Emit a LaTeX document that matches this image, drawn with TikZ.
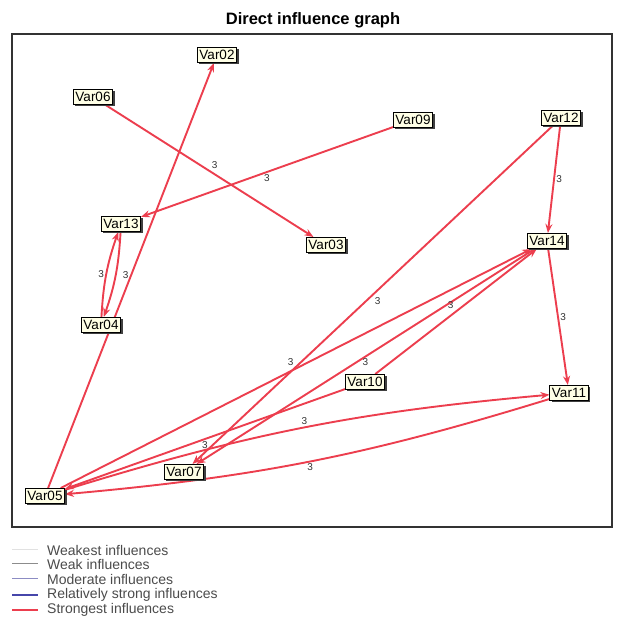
\documentclass[tikz,border=0pt]{standalone}
\usepackage{fontspec}
\setmainfont{Liberation Sans}
\usetikzlibrary{arrows.meta, shadows, backgrounds}
\definecolor{inflred}{RGB}{236,62,78}
\definecolor{boxcream}{RGB}{255,255,230}
\definecolor{legendgray}{RGB}{75,75,75}
\definecolor{weakestgray}{RGB}{225,225,225}
\definecolor{weakgray}{RGB}{140,140,140}
\definecolor{moderateblue}{RGB}{140,140,195}
\definecolor{strongblue}{RGB}{70,70,170}

\tikzset{
  var/.style={draw=black, line width=1pt, fill=boxcream,
    font=\fontsize{13.5}{13.5}\selectfont, inner xsep=2pt, inner ysep=1.5pt,
    minimum height=15pt,
    drop shadow={shadow xshift=2pt, shadow yshift=-2pt, fill=black!75, opacity=1}},
  infl/.style={-{Stealth[length=9pt,width=7pt]}, line width=1.9pt, inflred},
  wt/.style={font=\fontsize{10}{10}\selectfont, text=black!80, inner sep=1.5pt},
  legendtext/.style={anchor=west, font=\fontsize{14}{14}\selectfont, text=legendgray, inner sep=0pt},
}

\begin{document}
\begin{tikzpicture}[x=1pt, y=-1pt]
  \useasboundingbox (0,0) rectangle (622,620);

  % title and frame
  \node[font=\bfseries\fontsize{16.5}{16.5}\selectfont] (title) at (313,20) {Direct influence graph};
  \draw[line width=1.2pt, black!80] (12,34) rectangle (612,527);

  % variables
  \node[var] (v02) at (217,55) {Var02};
  \node[var] (v06) at (93,97) {Var06};
  \node[var] (v09) at (413,120) {Var09};
  \node[var] (v12) at (561,118) {Var12};
  \node[var] (v13) at (121,224) {Var13};
  \node[var] (v03) at (326,245) {Var03};
  \node[var] (v14) at (547,241) {Var14};
  \node[var] (v04) at (101,325) {Var04};
  \node[var] (v10) at (365,382) {Var10};
  \node[var] (v11) at (569,393) {Var11};
  \node[var] (v07) at (184,472) {Var07};
  \node[var] (v05) at (45,496) {Var05};

  % influences
  \begin{pgfonlayer}{background}
    \draw[infl] (v06) -- node[wt, above right] (w1) {3} (v03);
    \draw[infl] (v09) -- node[wt, below] (w2) {3} (v13);
    \draw[infl] (v05) -- node[wt, left] (w3) {3} (v02);
    \draw[infl] (v04) to[bend left=8] node[wt, left] (w4) {3} (v13);
    \draw[infl] (v13) to[bend left=8] (v04);
    \draw[infl] (v12) -- node[wt, right] (w5) {3} (v14);
    \draw[infl] (v14) -- node[wt, right] (w6) {3} (v11);
    \draw[infl] (v12) -- node[wt, below right] (w7) {3} (v07);
    \draw[infl] (v14) -- node[wt, below] (w8) {3} (v07);
    \draw[infl] (v10) -- node[wt, above left] (w9) {3} (v14);
    \draw[infl] (v05) -- node[wt, above left] (w10) {3} (v14);
    \draw[infl] (v05) to[bend left=6] node[wt, above] (w11) {3} (v11);
    \draw[infl] (v11) to[bend left=6] node[wt, below] (w12) {3} (v05);
    \draw[infl] (v10) -- node[wt, below] (w13) {3} (v05);
  \end{pgfonlayer}

  % legend
  \draw[weakestgray, line width=1pt] (12,550) -- (38,550);
  \node[legendtext] (l1) at (47,550) {Weakest influences};
  \draw[weakgray, line width=1pt] (12,564) -- (38,564);
  \node[legendtext] (l2) at (47,564) {Weak influences};
  \draw[moderateblue, line width=1pt] (12,579) -- (38,579);
  \node[legendtext] (l3) at (47,579) {Moderate influences};
  \draw[strongblue, line width=2pt] (12,595) -- (38,595);
  \node[legendtext] (l4) at (47,595) {Relatively strong influences};
  \draw[inflred, line width=2pt] (12,610) -- (38,610);
  \node[legendtext] (l5) at (47,610) {Strongest influences};
\end{tikzpicture}
\end{document}
